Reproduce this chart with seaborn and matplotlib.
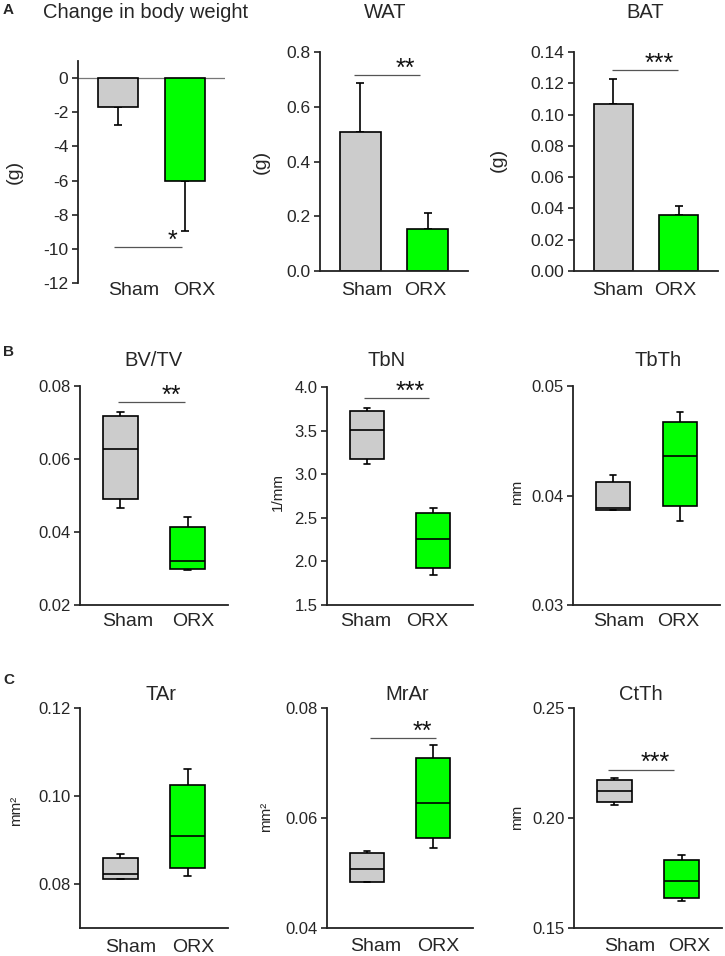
import numpy as np
import pandas as pd
import matplotlib
matplotlib.use("Agg")
import matplotlib.pyplot as plt
import seaborn as sns

# ---------------- data ----------------
groups = ["Sham", "ORX"]

# bar charts: mean and one-sided SEM
bw_mean = [-1.7, -6.0]
bw_err = [1.05, 2.95]
wat_mean = [0.507, 0.153]
wat_err = [0.180, 0.058]
bat_mean = [0.1067, 0.0358]
bat_err = [0.0160, 0.0058]

# box plots: whisker low, Q1, median, Q3, whisker high
bvtv_sham = [0.0466, 0.0491, 0.0627, 0.0718, 0.0729]
bvtv_orx = [0.0296, 0.0298, 0.0321, 0.0413, 0.0441]
tbn_sham = [3.12, 3.18, 3.51, 3.73, 3.76]
tbn_orx = [1.84, 1.92, 2.26, 2.55, 2.61]
tbth_sham = [0.0387, 0.0387, 0.0389, 0.0412, 0.0419]
tbth_orx = [0.0377, 0.0390, 0.0436, 0.0467, 0.0476]
tar_sham = [0.0811, 0.0812, 0.0823, 0.0860, 0.0869]
tar_orx = [0.0819, 0.0837, 0.0909, 0.1026, 0.1061]
mrar_sham = [0.0483, 0.0484, 0.0507, 0.0536, 0.0540]
mrar_orx = [0.0545, 0.0563, 0.0628, 0.0710, 0.0733]
ctth_sham = [0.2061, 0.2071, 0.2121, 0.2171, 0.2182]
ctth_orx = [0.1622, 0.1638, 0.1715, 0.1809, 0.1830]

titles = ["Change in body weight", "WAT", "BAT",
          "BV/TV", "TbN", "TbTh",
          "TAr", "MrAr", "CtTh"]
ylabels = ["(g)", "(g)", "(g)", "", "1/mm", "mm", "mm²", "mm²", "mm"]

bw_ticks = [0, -2, -4, -6, -8, -10, -12]
bw_ticklabels = ["0", "-2", "-4", "-6", "-8", "-10", "-12"]
wat_ticks = [0.0, 0.2, 0.4, 0.6, 0.8]
wat_ticklabels = ["0.0", "0.2", "0.4", "0.6", "0.8"]
bat_ticks = [0.00, 0.02, 0.04, 0.06, 0.08, 0.10, 0.12, 0.14]
bat_ticklabels = ["0.00", "0.02", "0.04", "0.06", "0.08", "0.10", "0.12", "0.14"]
bvtv_ticks = [0.02, 0.04, 0.06, 0.08]
bvtv_ticklabels = ["0.02", "0.04", "0.06", "0.08"]
tbn_ticks = [1.5, 2.0, 2.5, 3.0, 3.5, 4.0]
tbn_ticklabels = ["1.5", "2.0", "2.5", "3.0", "3.5", "4.0"]
tbth_ticks = [0.03, 0.04, 0.05]
tbth_ticklabels = ["0.03", "0.04", "0.05"]
tar_ticks = [0.08, 0.10, 0.12]
tar_ticklabels = ["0.08", "0.10", "0.12"]
mrar_ticks = [0.04, 0.06, 0.08]
mrar_ticklabels = ["0.04", "0.06", "0.08"]
ctth_ticks = [0.15, 0.20, 0.25]
ctth_ticklabels = ["0.15", "0.20", "0.25"]

# significance brackets: (x start, x end, y, label)
sig_bw = (-0.06, 0.95, -9.9, "*")
sig_wat = (-0.09, 0.88, 0.716, "**")
sig_bat = (-0.015, 0.985, 0.1285, "***")
sig_bvtv = (-0.03, 0.96, 0.0756, "**")
sig_tbn = (-0.05, 0.94, 3.87, "***")
sig_mrar = (0.05, 1.04, 0.0745, "**")
sig_ctth = (-0.10, 0.89, 0.222, "***")

# ---------------- style ----------------
sns.set_style("ticks")
plt.rcParams["font.family"] = ["Liberation Sans", "DejaVu Sans"]

GRAY = "#cccccc"
GREEN = "#00ff00"
pal = {"Sham": GRAY, "ORX": GREEN}
W, H = 725, 956
fig = plt.figure(figsize=(W / 100, H / 100), dpi=100)


def add_ax(l, t, r, b):
    return fig.add_axes([l / W, 1 - b / H, (r - l) / W, (b - t) / H])


def ftext(x, y, s, **kw):
    fig.text(x / W, 1 - y / H, s, **kw)


def style(ax, ylim, ticks, ticklabels, xtickpos, xpad, ytsize=12.5):
    sns.despine(ax=ax)
    ax.set_xlim(-0.6, 1.6)
    ax.set_ylim(*ylim)
    ax.set_yticks(ticks)
    ax.set_yticklabels(ticklabels)
    ax.set_xticks(xtickpos)
    ax.set_xticklabels(groups)
    ax.set_xlabel("")
    ax.set_ylabel("")
    ax.tick_params(axis="x", length=0, labelsize=14, pad=xpad)
    ax.tick_params(axis="y", length=4, width=1.2, labelsize=ytsize, pad=3,
                   color="#222222")
    for s in ["left", "bottom"]:
        ax.spines[s].set_linewidth(1.3)
        ax.spines[s].set_color("#222222")


def sig(ax, spec):
    x0, x1, y, lab = spec
    ax.plot([x0, x1], [y, y], color="#555555", lw=0.9, solid_capstyle="butt")
    ax.annotate(lab, xy=(x1 - 0.06, y), xytext=(0, -0.5),
                textcoords="offset points", ha="right", va="baseline",
                fontsize=18, color="#111111")


def bars(ax, mean, err, negative=False):
    sns.barplot(x=groups, y=mean, hue=groups, palette=pal, saturation=1,
                width=0.6, edgecolor="black", linewidth=1.2, errorbar=None,
                legend=False, ax=ax, zorder=2)
    if negative:
        yerr = [err, [0, 0]]
    else:
        yerr = [[0, 0], err]
    ax.errorbar(x=[0, 1], y=mean, yerr=yerr, fmt="none", ecolor="black",
                elinewidth=1.2, capsize=3.2, capthick=1.2, zorder=1)


def boxes(ax, sham, orx):
    df = pd.DataFrame({"group": ["Sham"] * len(sham) + ["ORX"] * len(orx),
                       "value": list(sham) + list(orx)})
    sns.boxplot(data=df, x="group", y="value", hue="group", order=groups,
                hue_order=groups, palette=pal, saturation=1, width=0.51,
                whis=(0, 100), linecolor="black", linewidth=1.2,
                showfliers=False, capwidths=0.1, legend=False, ax=ax)


# ---------------- row A ----------------
ax = add_ax(78, 61, 225, 283)
bars(ax, bw_mean, bw_err, negative=True)
style(ax, (-12, 1), bw_ticks, bw_ticklabels, [0.23, 1.14], -0.7)
ax.spines["bottom"].set_visible(False)
ax.axhline(0, color="#777777", lw=0.9, zorder=0)
sig(ax, sig_bw)

ax = add_ax(320, 52, 468, 271)
bars(ax, wat_mean, wat_err)
style(ax, (0, 0.8), wat_ticks, wat_ticklabels, [0.10, 0.97], 7.9)
sig(ax, sig_wat)

ax = add_ax(574, 52, 718, 271)
bars(ax, bat_mean, bat_err)
style(ax, (0, 0.14), bat_ticks, bat_ticklabels, [0.06, 0.94], 7.9)
sig(ax, sig_bat)

# ---------------- row B ----------------
ax = add_ax(80, 386, 228, 605)
boxes(ax, bvtv_sham, bvtv_orx)
style(ax, (0.02, 0.08), bvtv_ticks, bvtv_ticklabels, [0.11, 1.08], 6.0, 12)
sig(ax, sig_bvtv)

ax = add_ax(327, 387, 473, 605)
boxes(ax, tbn_sham, tbn_orx)
style(ax, (1.5, 4.0), tbn_ticks, tbn_ticklabels, [-0.02, 0.91], 6.0, 12)
sig(ax, sig_tbn)

ax = add_ax(573, 386, 720, 605)
boxes(ax, tbth_sham, tbth_orx)
style(ax, (0.03, 0.05), tbth_ticks, tbth_ticklabels, [0.08, 0.97], 6.0, 12)

# ---------------- row C ----------------
ax = add_ax(80, 708, 228, 928)
boxes(ax, tar_sham, tar_orx)
style(ax, (0.07, 0.12), tar_ticks, tar_ticklabels, [0.16, 1.09], 8.0, 12)

ax = add_ax(327, 708, 473, 928)
boxes(ax, mrar_sham, mrar_orx)
style(ax, (0.04, 0.08), mrar_ticks, mrar_ticklabels, [0.14, 1.08], 7.2, 12)
sig(ax, sig_mrar)

ax = add_ax(574, 708, 722, 928)
boxes(ax, ctth_sham, ctth_orx)
style(ax, (0.15, 0.25), ctth_ticks, ctth_ticklabels, [0.23, 1.12], 7.2, 12)
sig(ax, sig_ctth)

# ---------------- titles, labels ----------------
title_pos = [(146, 12), (385, 12), (645, 12),
             (153, 360), (387, 360), (658, 360),
             (161, 695), (407, 695), (641, 695)]
for (x, y), t in zip(title_pos, titles):
    ftext(x, y, t, ha="center", va="center", fontsize=14.5)

ylab_pos = [(14, 172, 14), (261, 162, 14), (498, 160, 14),
            (0, 0, 11), (278, 492, 11), (517, 492, 11),
            (16, 811, 11), (266, 817, 11), (517, 817, 11)]
for (x, y, fs), t in zip(ylab_pos, ylabels):
    if t:
        ftext(x, y, t, ha="center", va="center", rotation=90, fontsize=fs)

ftext(3, 10, "A", ha="left", va="center", fontsize=11, fontweight="bold")
ftext(3, 352, "B", ha="left", va="center", fontsize=11, fontweight="bold")
ftext(3, 680, "C", ha="left", va="center", fontsize=11, fontweight="bold")

fig.savefig("out.png", dpi=100)
